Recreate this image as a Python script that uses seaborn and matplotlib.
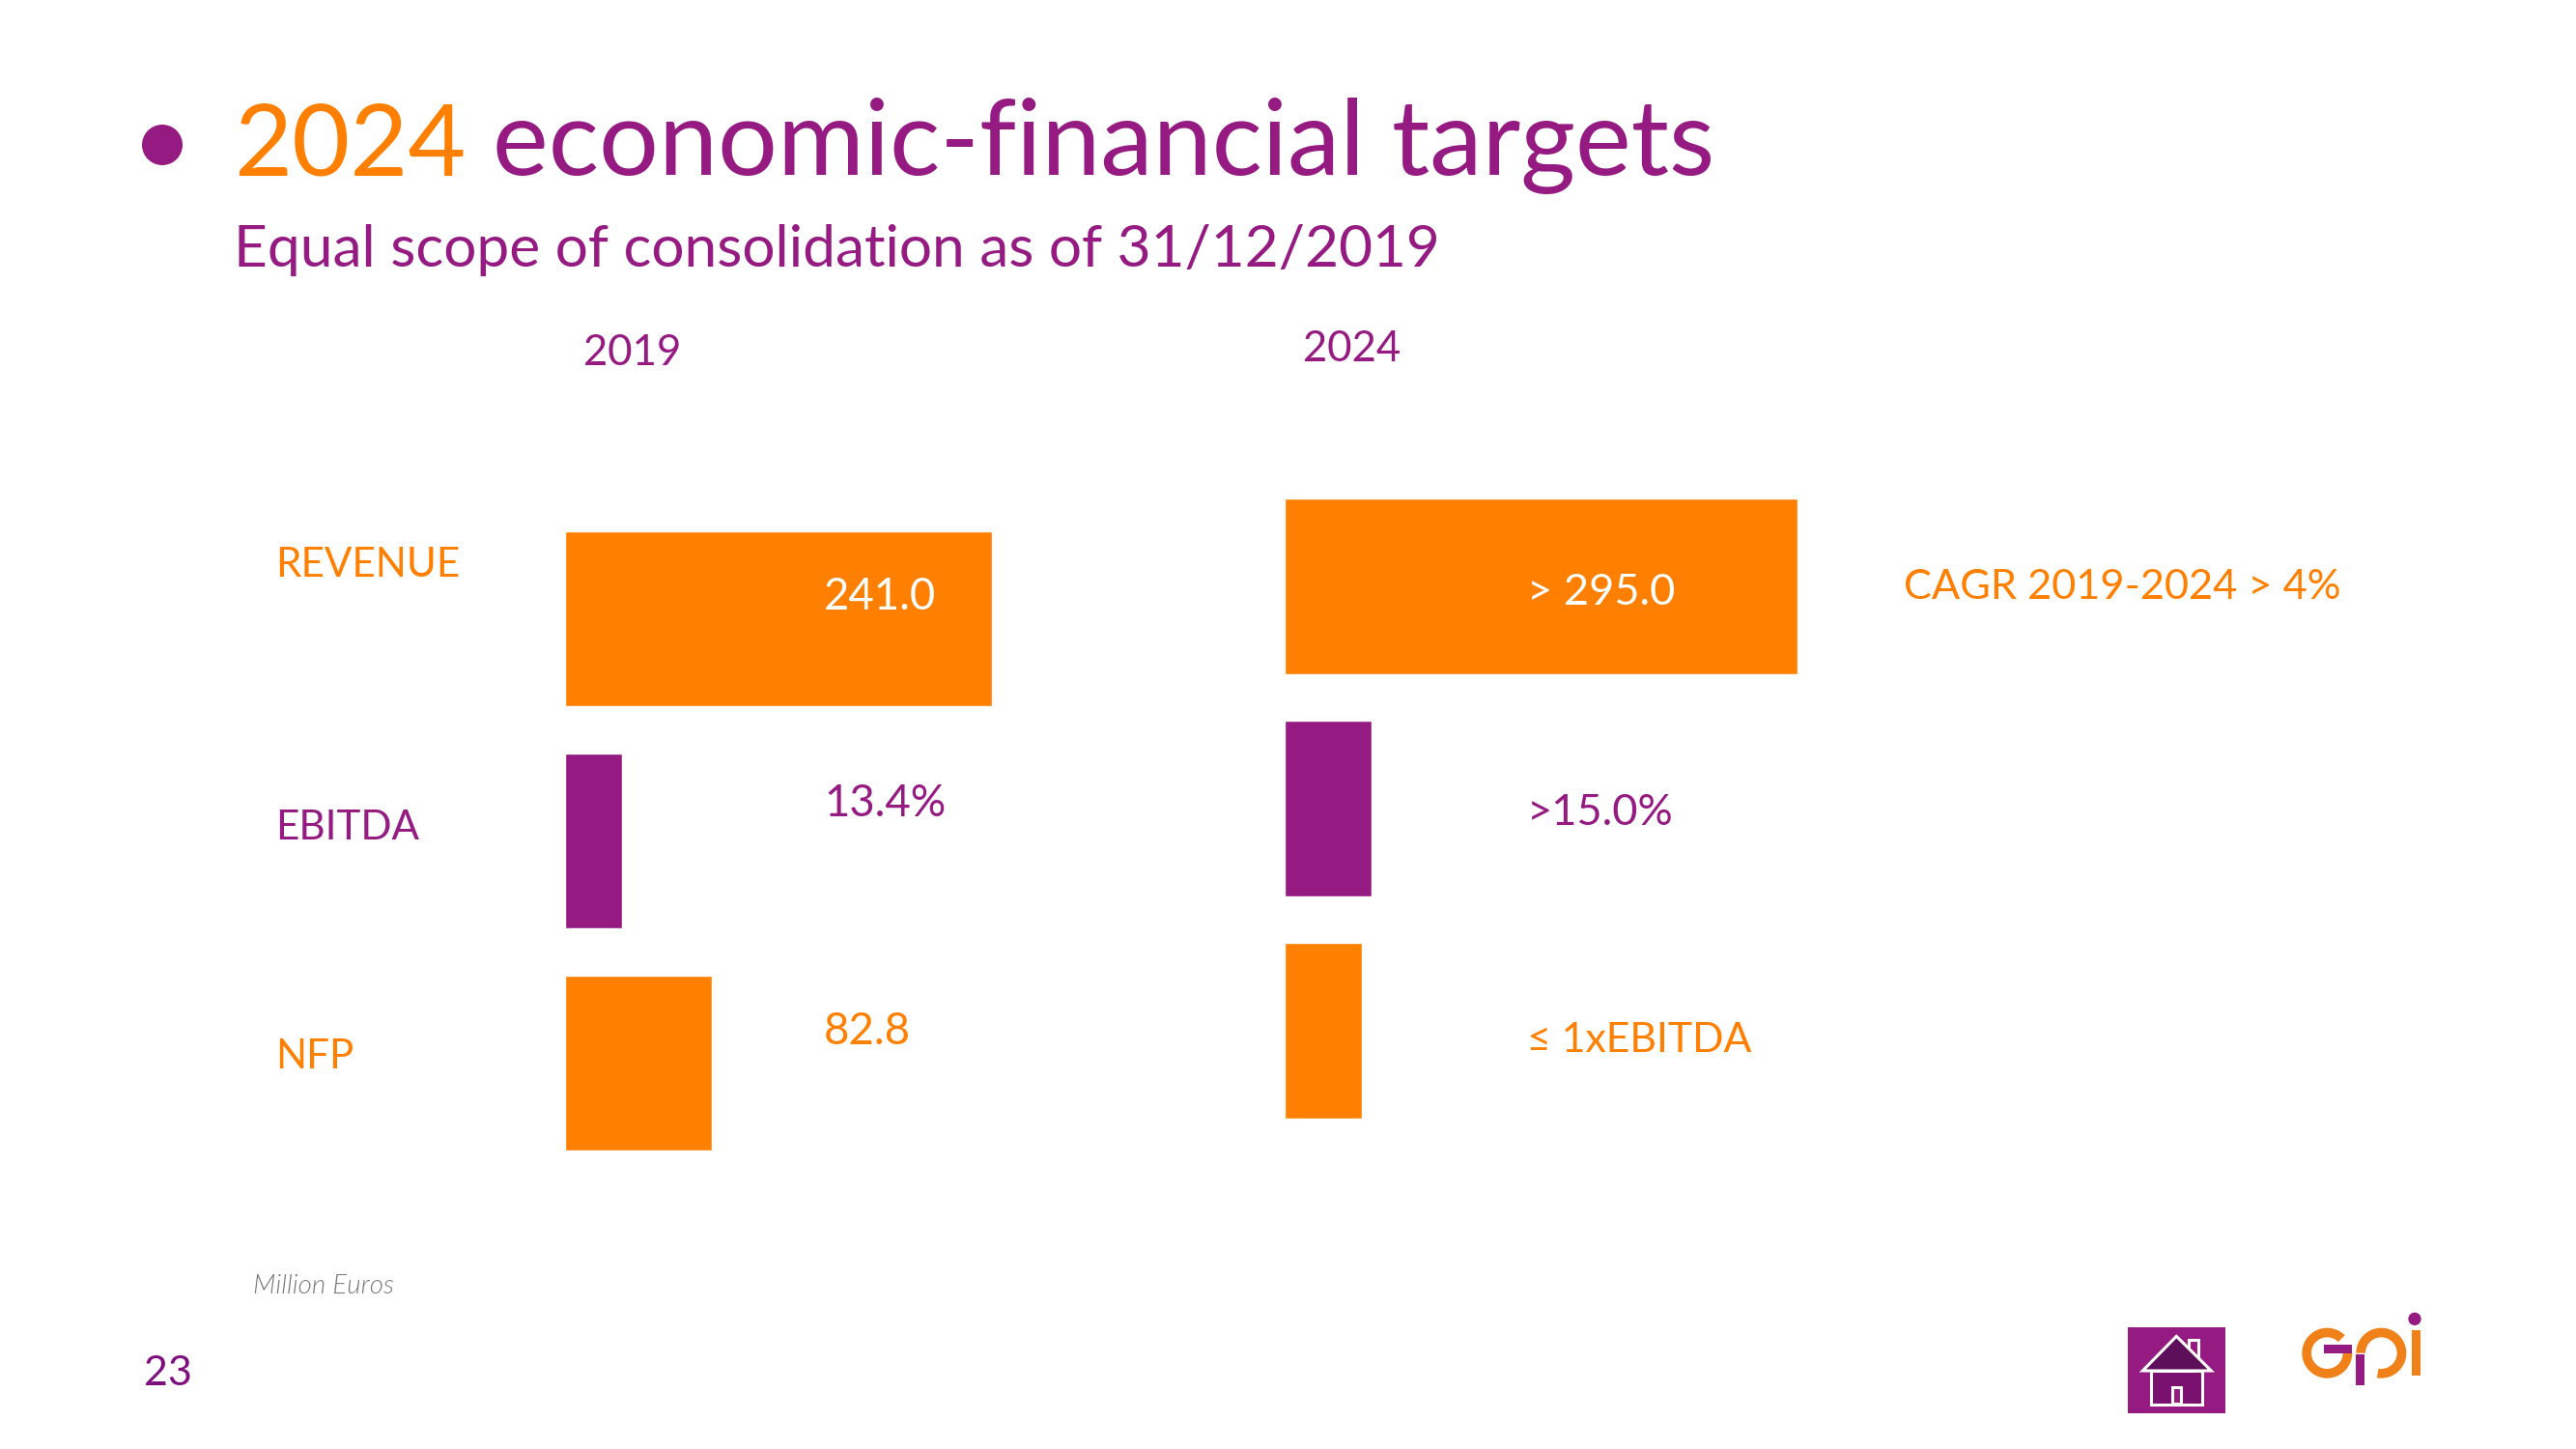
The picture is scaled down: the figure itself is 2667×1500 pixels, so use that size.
import matplotlib
matplotlib.use("Agg")
import matplotlib.pyplot as plt
from matplotlib.patches import Wedge, Rectangle, Polygon, Circle
import pandas as pd
import seaborn as sns

# ---- data ----
metrics = ["REVENUE", "EBITDA", "NFP"]
values_2019 = [241.0, 32.3, 82.8]
values_2024 = [295.0, 49.8, 44.4]
labels_2019 = ["241.0", "13.4%", "82.8"]
labels_2024 = ["> 295.0", ">15.0%", "\u2264 1xEBITDA"]
years = ["2019", "2024"]
title_year = "2024"
title_rest = "economic-financial targets"
subtitle = "Equal scope of consolidation as of 31/12/2019"
cagr_note = "CAGR 2019-2024 > 4%"
unit_note = "Million Euros"
page_no = "23"

ORANGE = "#FF7F00"
PURPLE = "#951A81"
palette = {"REVENUE": ORANGE, "EBITDA": PURPLE, "NFP": ORANGE}

W, H = 2667, 1500
sns.set_theme(style="white")
plt.rcParams["font.family"] = ["Lato", "DejaVu Sans"]
fig = plt.figure(figsize=(W / 100, H / 100), dpi=100, facecolor="white")


def bar_axes(x0, top, series, scale):
    bottom = top + 690
    x1 = x0 + 600
    ax = fig.add_axes([x0 / W, 1 - bottom / H, (x1 - x0) / W, (bottom - top) / H])
    df = pd.DataFrame({"metric": metrics, "value": series})
    sns.barplot(data=df, y="metric", x="value", hue="metric", palette=palette,
                order=metrics, hue_order=metrics, dodge=False, width=0.787,
                saturation=1, legend=False, ax=ax)
    ax.set_xlim(0, 600 / scale)
    ax.set_ylim(2.5, -0.5)
    ax.axis("off")
    ax.patch.set_alpha(0)
    return ax


bar_axes(584.5, 525.5, values_2019, 1.836)
bar_axes(1330, 492, values_2024, 1.80)

ov = fig.add_axes([0, 0, 1, 1], zorder=5)
ov.set_xlim(0, W)
ov.set_ylim(H, 0)
ov.axis("off")
ov.patch.set_alpha(0)


def t(x, y, s, color, size, **kw):
    return ov.text(x, y, s, color=color, fontsize=size, va="baseline", ha="left", **kw)


# header
ov.add_patch(Circle((168, 150), 21, fc=PURPLE, ec="none"))
t(242, 181, title_year, ORANGE, 74.5)
t(510, 181, title_rest, PURPLE, 78.7)
t(242, 276, subtitle, PURPLE, 43.5)

# column heads
t(604, 378, years[0], PURPLE, 31.5)
t(1349, 374, years[1], PURPLE, 31.5)

# row labels
for y, m, c in zip([597, 869, 1106], metrics, [ORANGE, PURPLE, ORANGE]):
    t(285, y, m, c, 30.3)

# value labels
for y, s, c in zip([631, 845, 1081], labels_2019, ["white", PURPLE, ORANGE]):
    t(853, y, s, c, 32.8)
for y, s, c, fs in zip([626, 854, 1089], labels_2024, ["white", PURPLE, ORANGE], [32.6, 32.6, 30.8]):
    t(1581, y, s, c, fs)
t(1971, 620, cagr_note, ORANGE, 31.2)

t(262, 1339, unit_note, "#7A7A7A", 20, style="italic", fontweight=300)
t(149, 1434, page_no, "#7F0F7E", 31)

# home icon
def px(xz, yz):
    return (2150 + xz / 3, 1330 + yz / 3)

ov.add_patch(Rectangle(px(158, 132), 304 / 3, 268 / 3, fc=PURPLE, ec="none"))
ov.add_patch(Rectangle(px(347, 172), 30 / 3, 50 / 3, fc=PURPLE, ec="white", lw=2.2))
ov.add_patch(Rectangle(px(230, 267), 160 / 3, 105 / 3, fc="#7A1070", ec="white", lw=2.2))
ov.add_patch(Polygon([px(310, 160), px(205, 267), px(418, 267)], fc="#5E0F5A", ec="white", lw=2.2))
ov.add_patch(Rectangle(px(296, 317), 28 / 3, 51 / 3, fc=PURPLE, ec="white", lw=2.2))

# logo
LOGO = "#F08119"
R = 78 / 3
RW = 29 / 3
ov.add_patch(Wedge(px(778, 212), R, 0, 315, width=RW, fc=LOGO, ec="none"))
ov.add_patch(Rectangle(px(768, 187), 88 / 3, 25 / 3, fc=PURPLE, ec="none"))
ov.add_patch(Wedge(px(946, 212), R, 180, 460, width=RW, fc=LOGO, ec="none"))
ov.add_patch(Rectangle(px(868, 215), 27 / 3, 97 / 3, fc=PURPLE, ec="none"))
ov.add_patch(Rectangle(px(1040, 142), 28 / 3, 141 / 3, fc=LOGO, ec="none"))
ov.add_patch(Circle(px(1050, 106), 20 / 3, fc=PURPLE, ec="none"))

fig.savefig("out.png", dpi=100, facecolor="white")
